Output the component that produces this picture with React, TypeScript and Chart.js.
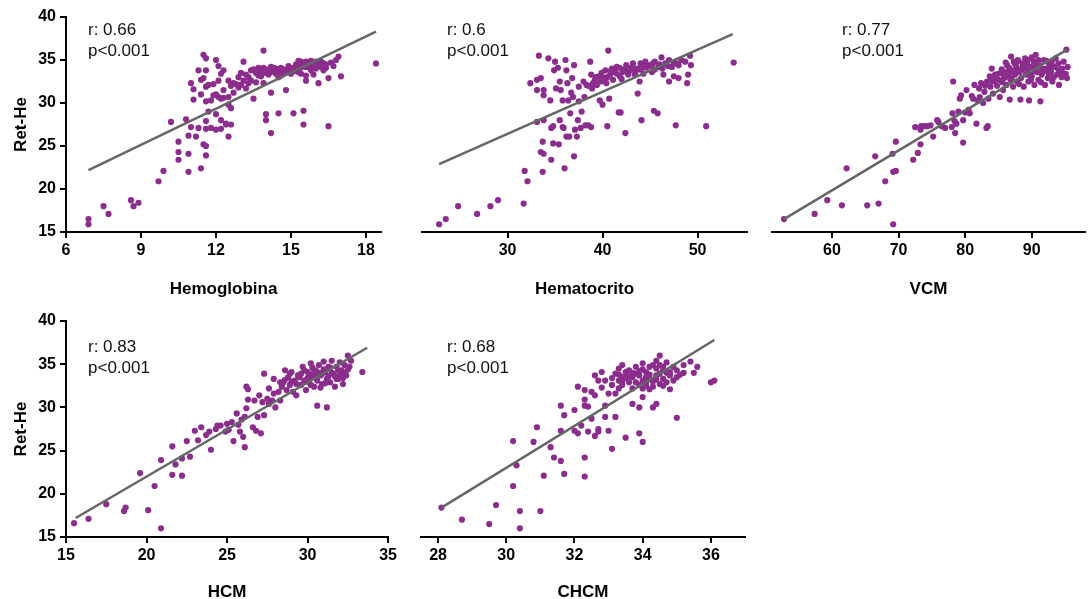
import React, { useEffect, useRef } from "react";
import { Chart, registerables } from "chart.js";

Chart.register(...registerables);

const FONT = '"Liberation Sans", Arial, Helvetica, sans-serif';
const DOT_COLOR = "#8b2d8c";
const FIT_COLOR = "#666666";

// ---------- tick labels ----------
const retHeTicks = [15, 20, 25, 30, 35, 40];
const hbTicks = [6, 9, 12, 15, 18];
const htoTicks = [30, 40, 50];
const vcmTicks = [60, 70, 80, 90];
const hcmTicks = [15, 20, 25, 30, 35];
const chcmTicks = [28, 30, 32, 34, 36];

// ---------- titles / stats ----------
const yTitle = "Ret-He";
const hbStats = ["r: 0.66", "p<0.001"];
const htoStats = ["r: 0.6", "p<0.001"];
const vcmStats = ["r: 0.77", "p<0.001"];
const hcmStats = ["r: 0.83", "p<0.001"];
const chcmStats = ["r: 0.68", "p<0.001"];

// ---------- regression lines (endpoints) ----------
const hbFit: [number, number][] = [[6.9, 22.2], [18.4, 38.3]];
const htoFit: [number, number][] = [[22.8, 22.9], [53.7, 38.0]];
const vcmFit: [number, number][] = [[52.8, 16.5], [95.3, 36.2]];
const hcmFit: [number, number][] = [[15.6, 17.2], [33.7, 36.9]];
const chcmFit: [number, number][] = [[28.1, 18.4], [36.1, 37.8]];

// ---------- scatter values [x, Ret-He] ----------
const hbPoints: [number, number][] = [
  [6.9, 16.5], [6.9, 15.9], [7.5, 18.0], [7.7, 17.1], [8.6, 18.7], [8.7, 18.0], [8.9, 18.4],
  [9.7, 20.9], [9.9, 22.1], [10.2, 27.8], [10.5, 24.3], [10.5, 23.4], [10.5, 25.5], [10.8, 28.1],
  [10.9, 22.0], [10.9, 24.1], [10.9, 26.2], [11.0, 27.2], [11.0, 32.3], [11.1, 31.6], [11.1, 30.4],
  [11.2, 26.1], [11.3, 33.8], [11.3, 27.1], [11.4, 22.4], [11.4, 32.7], [11.4, 31.0], [11.5, 35.6],
  [11.5, 25.2], [11.5, 32.9], [11.6, 27.9], [11.6, 27.0], [11.6, 35.2], [11.6, 33.8], [11.6, 25.0],
  [11.6, 23.9], [11.6, 31.9], [11.6, 30.2], [11.7, 32.1], [11.7, 29.0], [11.8, 27.1], [11.8, 30.3],
  [11.9, 32.2], [12.0, 35.0], [12.0, 28.7], [12.0, 26.9], [12.1, 30.7], [12.1, 34.3], [12.1, 32.6],
  [12.2, 30.5], [12.2, 33.4], [12.2, 27.0], [12.2, 28.0], [12.3, 30.6], [12.3, 33.8], [12.4, 27.6],
  [12.4, 27.5], [12.5, 26.1], [12.5, 30.7], [12.5, 32.6], [12.5, 29.8], [12.6, 27.5], [12.6, 32.0],
  [12.6, 29.4], [12.7, 32.3], [13.1, 34.8], [12.9, 33.0], [13.0, 32.1], [13.1, 32.6], [13.2, 31.7],
  [13.2, 33.3], [13.3, 32.3], [13.4, 32.6], [13.5, 30.5], [13.5, 33.9], [13.6, 32.4], [13.7, 34.1],
  [13.7, 33.2], [13.9, 36.1], [13.9, 33.7], [13.9, 32.3], [14.0, 28.7], [14.0, 28.0], [14.2, 26.5],
  [14.1, 33.3], [14.2, 34.2], [14.2, 31.2], [14.3, 33.7], [14.4, 33.4], [14.5, 28.8], [14.5, 33.9],
  [14.5, 33.0], [14.6, 34.1], [14.6, 33.2], [14.7, 33.9], [14.8, 33.6], [14.8, 31.5], [14.8, 33.8],
  [14.9, 34.3], [15.0, 33.4], [15.1, 28.8], [15.1, 34.1], [15.2, 33.7], [15.3, 34.4], [15.3, 33.6],
  [15.4, 34.8], [15.4, 34.1], [15.5, 29.1], [15.5, 27.5], [15.5, 34.4], [15.6, 32.6], [15.6, 33.2],
  [15.6, 34.8], [15.7, 34.2], [15.8, 33.8], [15.8, 34.6], [15.9, 34.2], [15.9, 33.3], [16.0, 34.8],
  [16.1, 32.3], [16.1, 34.4], [16.2, 34.8], [16.5, 27.3], [16.3, 34.6], [16.4, 34.1], [16.5, 32.9],
  [16.8, 35.0], [16.9, 35.4], [17.0, 33.1], [18.4, 34.6],
  [13.8, 33.1], [14.1, 33.9], [14.4, 34.0], [14.7, 33.4], [15.0, 34.0], [15.2, 34.5], [15.6, 34.2],
  [15.9, 34.7], [16.2, 34.2], [13.3, 33.0], [13.6, 33.5], [12.8, 32.2], [12.9, 31.8], [14.9, 33.6],
  [15.4, 33.4], [16.6, 34.7], [16.3, 33.8],
  [13.0, 33.5], [13.4, 33.8], [13.8, 33.7], [14.0, 33.5], [14.3, 34.1], [14.6, 33.7], [15.1, 33.9],
  [15.3, 34.9], [15.7, 34.6], [16.0, 34.0], [16.4, 34.5], [12.3, 31.5], [12.0, 31.0], [11.9, 30.9],
  [12.7, 31.2], [13.9, 34.1], [14.2, 33.6], [15.8, 34.9], [16.7, 34.3],
];

const htoPoints: [number, number][] = [
  [22.8, 15.9], [23.5, 16.5], [24.8, 18.0], [26.8, 17.1], [28.2, 18.0], [29.0, 18.7], [31.7, 18.3],
  [31.8, 22.1], [32.1, 20.9], [32.4, 32.3], [33.1, 32.7], [33.1, 31.5], [33.1, 27.8], [33.3, 35.5],
  [33.5, 32.9], [33.5, 24.3], [33.7, 25.5], [33.7, 22.0], [33.8, 28.0], [33.8, 31.5], [33.8, 24.1],
  [33.8, 30.9], [34.3, 35.2], [34.5, 30.3], [34.6, 23.4], [34.6, 27.1], [34.8, 25.3], [34.8, 27.3],
  [34.9, 33.8], [35.0, 34.8], [35.1, 31.7], [35.3, 34.1], [35.4, 25.2], [35.5, 28.0], [35.5, 32.5],
  [35.6, 31.5], [35.8, 27.2], [35.8, 30.3], [35.9, 27.1], [36.0, 22.4], [36.1, 35.0], [36.2, 33.8],
  [36.2, 26.1], [36.3, 32.3], [36.4, 30.3], [36.5, 26.1], [36.6, 28.8], [36.8, 32.9], [36.9, 30.7],
  [37.0, 34.4], [37.0, 23.8], [37.1, 26.9], [37.3, 26.1], [37.4, 28.0], [37.5, 30.2], [37.7, 27.1],
  [37.8, 29.0], [38.0, 32.5], [38.1, 30.7], [38.2, 27.4], [38.3, 32.1], [38.5, 27.4], [38.7, 34.8],
  [38.8, 27.2], [38.8, 33.3], [38.9, 31.7], [39.2, 32.7], [39.4, 32.1], [39.6, 33.1], [39.7, 30.3],
  [39.8, 32.5], [40.0, 29.8], [40.1, 32.9], [40.3, 33.8], [40.4, 32.3], [40.5, 27.3], [40.6, 36.1],
  [40.7, 30.5], [40.8, 33.3], [41.0, 34.0], [41.1, 32.7], [41.3, 33.6], [41.5, 34.2], [41.7, 28.9],
  [41.8, 33.1], [41.9, 28.9], [42.1, 33.6], [42.4, 26.5], [42.5, 34.4], [42.7, 33.3], [42.9, 33.8],
  [43.2, 34.6], [43.4, 33.3], [43.6, 34.0], [43.7, 31.1], [43.9, 32.5], [44.0, 34.6], [44.1, 28.0],
  [44.3, 33.4], [44.5, 34.8], [44.6, 34.1], [44.8, 34.4], [45.2, 33.6], [45.4, 29.1], [45.5, 34.8],
  [45.8, 28.8], [45.9, 34.2], [46.2, 35.3], [46.4, 33.3], [46.6, 34.6], [47.0, 35.0], [47.0, 32.5],
  [47.3, 34.2], [47.5, 33.1], [47.7, 27.4], [47.8, 34.6], [48.0, 32.9], [48.3, 35.0], [48.7, 34.8],
  [48.9, 32.3], [49.0, 33.3], [49.2, 35.5], [49.3, 34.4], [50.9, 27.3], [53.8, 34.7],
  [40.5, 33.0], [41.5, 33.4], [42.3, 33.9], [43.0, 34.1], [44.0, 33.9], [45.0, 34.3], [46.0, 34.5],
  [47.5, 34.7], [39.0, 32.3], [38.5, 32.0], [42.0, 32.8], [43.5, 33.7], [45.5, 33.9], [48.0, 34.4],
  [39.3, 33.0], [39.9, 33.5], [40.9, 33.8], [41.8, 34.1], [42.6, 33.6], [43.3, 33.9], [44.2, 34.2],
  [45.3, 34.6], [46.3, 34.0], [46.9, 34.3], [40.2, 32.6], [37.5, 31.9], [36.7, 31.2],
];

const vcmPoints: [number, number][] = [
  [52.8, 16.5], [57.4, 17.1], [59.3, 18.7], [61.5, 18.1], [62.2, 22.4], [65.3, 18.1], [66.5, 23.8],
  [67.0, 18.3], [68.0, 20.9], [69.1, 24.1], [69.2, 15.9], [69.2, 22.0], [69.6, 22.1], [69.6, 25.5],
  [72.2, 23.4], [72.5, 27.2], [72.9, 24.2], [73.3, 25.2], [73.3, 26.9], [73.4, 27.3], [73.8, 27.3],
  [74.3, 27.3], [74.8, 27.4], [75.2, 26.1], [75.8, 28.0], [76.0, 27.8], [76.5, 27.3], [77.0, 27.1],
  [78.0, 27.2], [78.1, 28.8], [78.2, 32.5], [78.4, 27.9], [78.5, 26.5], [78.7, 27.6], [79.0, 29.0],
  [79.2, 30.5], [79.4, 30.9], [79.7, 25.4], [79.7, 28.0], [80.0, 28.9], [80.2, 31.5], [80.5, 29.2],
  [80.7, 28.8], [81.0, 30.8], [81.2, 30.5], [81.4, 32.1], [81.7, 27.6], [81.9, 30.3], [82.1, 31.7],
  [82.2, 30.7], [82.4, 32.3], [82.7, 30.0], [82.9, 31.3], [83.2, 27.1], [83.3, 32.5], [83.4, 27.3],
  [83.5, 30.5], [83.7, 33.1], [83.8, 31.9], [84.0, 34.0], [84.2, 31.1], [84.3, 32.5], [84.5, 33.3],
  [84.8, 32.0], [85.0, 32.7], [85.2, 30.7], [85.4, 33.5], [85.7, 31.5], [85.8, 32.9], [85.9, 33.6],
  [86.2, 32.1], [86.3, 34.4], [86.4, 33.1], [86.7, 30.4], [86.8, 32.7], [86.9, 35.4], [87.0, 33.8],
  [87.2, 31.9], [87.3, 34.8], [87.5, 33.3], [87.7, 34.2], [87.8, 32.5], [87.9, 35.0], [88.2, 33.6],
  [88.3, 30.4], [88.4, 32.9], [88.6, 34.6], [88.8, 31.9], [89.0, 34.0], [89.1, 33.3], [89.4, 35.0],
  [89.5, 32.5], [89.6, 30.3], [89.8, 34.2], [90.0, 33.1], [90.3, 34.8], [90.4, 32.1], [90.6, 35.6],
  [90.8, 33.6], [91.0, 32.7], [91.1, 34.4], [91.3, 30.2], [91.5, 33.3], [91.8, 35.0], [92.0, 32.1],
  [92.1, 34.0], [92.4, 32.9], [92.6, 34.6], [92.9, 33.6], [93.1, 32.5], [93.4, 34.2], [93.6, 35.2],
  [93.8, 33.3], [94.0, 34.6], [94.1, 32.1], [94.4, 33.6], [94.6, 34.0], [94.8, 34.8], [95.1, 33.4],
  [95.2, 36.2], [95.4, 34.2], [95.3, 32.9],
  [86.5, 33.5], [87.5, 34.5], [88.5, 33.9], [89.5, 33.8], [90.5, 34.2], [91.5, 34.0], [92.5, 33.5],
  [88.0, 34.9], [89.0, 35.2], [90.0, 35.3], [86.0, 33.0], [87.0, 32.9], [91.0, 35.0], [93.0, 34.8],
  [94.0, 33.9], [84.5, 32.9], [85.5, 33.9], [89.7, 33.2], [92.2, 34.9],
  [86.6, 34.1], [87.2, 33.6], [87.9, 33.9], [88.7, 34.3], [89.3, 34.6], [90.2, 33.7], [90.9, 34.7],
  [91.7, 33.7], [92.7, 34.2], [93.3, 33.0], [85.0, 33.4], [85.6, 32.4], [86.1, 34.7], [88.1, 32.2],
  [89.9, 32.7], [91.4, 32.4], [92.9, 32.9], [94.5, 33.0], [83.0, 32.0], [84.0, 32.6],
];

const hcmPoints: [number, number][] = [
  [15.5, 16.6], [16.4, 17.1], [17.5, 18.8], [18.6, 18.0], [18.7, 18.4], [19.6, 22.4], [20.1, 18.1],
  [20.5, 20.9], [20.9, 16.0], [20.9, 23.9], [21.6, 25.5], [21.6, 22.2], [21.8, 23.4], [22.2, 24.1],
  [22.2, 22.1], [22.5, 26.1], [22.7, 24.3], [23.0, 27.3], [23.2, 26.2], [23.4, 27.7], [23.7, 26.8],
  [23.9, 27.2], [24.0, 25.1], [24.3, 27.5], [24.4, 27.9], [24.6, 27.9], [24.9, 27.2], [25.0, 28.1],
  [25.1, 27.4], [25.3, 28.3], [25.4, 26.1], [25.6, 29.3], [25.7, 28.0], [25.8, 27.2], [25.9, 28.6],
  [26.0, 26.6], [26.1, 28.9], [26.1, 25.4], [26.2, 29.9], [26.2, 32.4], [26.3, 30.9], [26.3, 32.1],
  [26.6, 27.7], [26.7, 30.8], [26.8, 27.3], [26.9, 28.9], [27.0, 31.4], [27.1, 27.0], [27.2, 30.6],
  [27.3, 33.9], [27.3, 29.1], [27.5, 31.0], [27.6, 30.4], [27.8, 30.8], [27.9, 33.3], [28.0, 30.0],
  [28.2, 31.8], [28.3, 30.8], [28.4, 32.4], [28.5, 32.9], [28.6, 34.3], [28.7, 32.0], [28.8, 33.5],
  [28.9, 32.6], [29.0, 34.1], [29.1, 31.8], [29.2, 33.1], [29.3, 31.4], [29.4, 33.7], [29.6, 32.6],
  [29.7, 34.7], [29.8, 33.1], [29.9, 32.0], [30.0, 34.1], [30.1, 32.9], [30.2, 35.1], [30.3, 33.5],
  [30.4, 32.4], [30.5, 34.3], [30.6, 33.1], [30.6, 30.2], [30.7, 34.9], [30.8, 33.7], [30.9, 32.7],
  [31.0, 35.3], [31.1, 34.1], [31.2, 33.3], [31.2, 30.0], [31.3, 34.7], [31.4, 32.9], [31.5, 35.4],
  [31.6, 33.9], [31.7, 32.4], [31.8, 34.7], [31.9, 33.3], [32.0, 35.2], [32.1, 34.3], [32.2, 32.7],
  [32.3, 34.9], [32.4, 33.7], [32.5, 36.0], [32.6, 34.7], [33.4, 34.1],
  [29.5, 33.5], [30.0, 33.4], [30.5, 33.8], [31.0, 34.4], [31.5, 34.0], [32.0, 33.8], [29.8, 34.3],
  [30.3, 34.6], [30.8, 32.3], [31.3, 33.6], [31.8, 33.3], [32.3, 34.0], [28.9, 33.9], [29.3, 32.7],
  [30.7, 34.0],
  [29.0, 33.0], [29.6, 33.9], [30.1, 33.8], [30.4, 34.0], [30.9, 33.9], [31.4, 34.6], [31.7, 33.6],
  [32.2, 33.4], [32.5, 34.4], [29.9, 33.0], [30.2, 32.6], [31.1, 32.8], [28.6, 33.2], [28.3, 32.9],
  [27.6, 32.2], [27.9, 31.6], [31.9, 34.3], [32.7, 35.4],
];

const chcmPoints: [number, number][] = [
  [28.1, 18.4], [28.7, 17.0], [29.5, 16.5], [29.7, 18.7], [30.2, 26.1], [30.2, 20.9], [30.3, 23.3],
  [30.4, 16.0], [30.4, 18.0], [30.8, 26.0], [30.9, 27.7], [31.0, 18.0], [31.1, 22.1], [31.3, 25.4],
  [31.4, 24.2], [31.6, 30.2], [31.6, 27.3], [31.6, 23.8], [31.7, 22.3], [31.7, 29.1], [32.0, 27.3],
  [32.0, 29.7], [32.1, 32.4], [32.1, 27.0], [32.2, 27.9], [32.3, 32.0], [32.3, 24.2], [32.3, 22.0],
  [32.3, 30.9], [32.3, 30.2], [32.4, 27.2], [32.4, 30.1], [32.5, 31.8], [32.5, 28.7], [32.6, 33.7],
  [32.6, 26.7], [32.6, 31.4], [32.7, 33.1], [32.7, 27.5], [32.7, 27.2], [32.8, 32.3], [32.8, 34.1],
  [32.9, 28.9], [32.9, 30.2], [32.9, 33.1], [33.0, 27.3], [33.0, 31.6], [33.1, 25.2], [33.1, 32.6],
  [33.2, 33.9], [33.2, 28.9], [33.2, 31.6], [33.3, 33.1], [33.3, 32.2], [33.4, 34.9], [33.4, 33.5],
  [33.4, 32.6], [33.5, 34.1], [33.5, 26.5], [33.6, 32.9], [33.6, 34.3], [33.7, 30.4], [33.7, 32.2],
  [33.7, 33.5], [33.8, 34.7], [33.9, 32.6], [33.9, 30.0], [33.9, 27.0], [33.9, 33.7], [34.0, 33.1],
  [34.0, 26.0], [34.0, 35.1], [34.0, 32.2], [34.0, 31.2], [34.1, 34.1], [34.1, 32.9], [34.2, 34.7],
  [34.2, 33.3], [34.3, 32.4], [34.3, 30.0], [34.4, 35.4], [34.4, 34.5], [34.4, 30.4], [34.4, 33.7],
  [34.5, 36.0], [34.5, 32.7], [34.5, 34.9], [34.6, 33.3], [34.6, 34.3], [34.7, 32.9], [34.7, 35.2],
  [34.8, 33.7], [34.8, 32.1], [34.9, 34.7], [35.0, 28.8], [35.0, 33.5], [35.2, 34.9], [35.2, 34.0],
  [35.4, 35.3], [35.5, 34.0], [35.6, 34.7], [36.0, 32.9], [36.1, 33.1],
  [33.5, 33.4], [33.8, 33.9], [34.0, 34.4], [34.2, 33.8], [34.4, 33.2], [34.6, 34.7], [34.8, 34.1],
  [33.3, 33.8], [33.7, 34.0], [34.1, 32.5], [34.3, 34.9], [34.9, 33.1], [35.0, 34.3],
  [33.4, 33.0], [33.6, 33.6], [33.9, 34.2], [34.1, 33.5], [34.3, 33.0], [34.5, 33.9], [34.7, 34.0],
  [33.8, 32.9], [34.2, 32.1], [34.6, 32.5], [33.1, 33.4], [33.3, 34.5], [35.1, 33.8],
];

// ---------- panel layout ----------
type PanelDef = {
  key: string;
  box: { left: number; top: number; width: number; height: number };
  pad: { left: number; top: number; right: number };
  showY: boolean;
  yAxisWidth: number;
  xAxisHeight: number;
  xTitlePadBottom: number;
  xTitle: string;
  xMin: number;
  xMax: number;
  xTicks: number[];
  points: [number, number][];
  fit: [number, number][];
  stats: string[];
  statsPos: { x: number; y: number };
};

const panels: PanelDef[] = [
  {
    key: "hb", box: { left: 0, top: 0, width: 400, height: 300 }, pad: { left: 0, top: 17, right: 19 },
    showY: true, yAxisWidth: 66, xAxisHeight: 68, xTitlePadBottom: 2, xTitle: "Hemoglobina",
    xMin: 6, xMax: 18.6, xTicks: hbTicks, points: hbPoints, fit: hbFit, stats: hbStats, statsPos: { x: 88, y: 35 },
  },
  {
    key: "hto", box: { left: 400, top: 0, width: 360, height: 300 }, pad: { left: 22, top: 17, right: 13 },
    showY: false, yAxisWidth: 0, xAxisHeight: 68, xTitlePadBottom: 2, xTitle: "Hematocrito",
    xMin: 21, xMax: 55.2, xTicks: htoTicks, points: htoPoints, fit: htoFit, stats: htoStats, statsPos: { x: 47, y: 35 },
  },
  {
    key: "vcm", box: { left: 760, top: 0, width: 329, height: 300 }, pad: { left: 12, top: 17, right: 1 },
    showY: false, yAxisWidth: 0, xAxisHeight: 68, xTitlePadBottom: 2, xTitle: "VCM",
    xMin: 51, xMax: 98, xTicks: vcmTicks, points: vcmPoints, fit: vcmFit, stats: vcmStats, statsPos: { x: 82, y: 35 },
  },
  {
    key: "hcm", box: { left: 0, top: 300, width: 400, height: 299 }, pad: { left: 0, top: 21, right: 10 },
    showY: true, yAxisWidth: 66, xAxisHeight: 62, xTitlePadBottom: -2, xTitle: "HCM",
    xMin: 15, xMax: 35, xTicks: hcmTicks, points: hcmPoints, fit: hcmFit, stats: hcmStats, statsPos: { x: 88, y: 52 },
  },
  {
    key: "chcm", box: { left: 400, top: 300, width: 360, height: 299 }, pad: { left: 21, top: 21, right: 15 },
    showY: false, yAxisWidth: 0, xAxisHeight: 62, xTitlePadBottom: -2, xTitle: "CHCM",
    xMin: 27.5, xMax: 37, xTicks: chcmTicks, points: chcmPoints, fit: chcmFit, stats: chcmStats, statsPos: { x: 47, y: 52 },
  },
];

const statsPlugin = {
  id: "statsText",
  afterDraw(chart: any, _args: any, opts: any) {
    if (!opts || !opts.lines) return;
    const ctx = chart.ctx;
    ctx.save();
    ctx.font = `17px ${FONT}`;
    ctx.fillStyle = "#111111";
    ctx.textAlign = "left";
    ctx.textBaseline = "alphabetic";
    opts.lines.forEach((t: string, i: number) => ctx.fillText(t, opts.x, opts.y + i * 21));
    ctx.restore();
  },
};

function Panel({ p }: { p: PanelDef }) {
  const ref = useRef<HTMLCanvasElement | null>(null);
  useEffect(() => {
    if (!ref.current) return;
    const axisCommon = {
      grid: { drawOnChartArea: false, drawTicks: true, tickLength: 6, color: "#000", lineWidth: 2 },
      border: { display: true, color: "#000", width: 2 },
    };
    const chart = new Chart(ref.current, {
      type: "scatter",
      data: {
        datasets: [
          {
            data: p.fit.map(([x, y]) => ({ x, y })),
            showLine: true,
            borderColor: FIT_COLOR,
            borderWidth: 2.5,
            pointRadius: 0,
            fill: false,
            order: 0,
          },
          {
            data: p.points.map(([x, y]) => ({ x, y })),
            backgroundColor: DOT_COLOR,
            borderWidth: 0,
            pointRadius: 3.1,
            order: 1,
          },
        ],
      },
      options: {
        animation: false,
        responsive: false,
        maintainAspectRatio: false,
        devicePixelRatio: 1,
        layout: { padding: { left: p.pad.left, top: p.pad.top, right: p.pad.right, bottom: 0 } },
        plugins: {
          legend: { display: false },
          tooltip: { enabled: false },
          statsText: { lines: p.stats, x: p.statsPos.x, y: p.statsPos.y },
        } as any,
        scales: {
          x: {
            type: "linear",
            min: p.xMin,
            max: p.xMax,
            ...axisCommon,
            afterBuildTicks: (s: any) => {
              s.ticks = p.xTicks.map((v) => ({ value: v }));
            },
            afterFit: (s: any) => {
              s.height = p.xAxisHeight;
            },
            ticks: {
              color: "#000",
              font: { family: FONT, size: 16, weight: "bold" },
              padding: 3,
              maxRotation: 0,
              autoSkip: false,
            },
            title: {
              display: true,
              text: p.xTitle,
              color: "#000",
              font: { family: FONT, size: 17, weight: "bold", lineHeight: 1 },
              padding: { top: 0, bottom: p.xTitlePadBottom },
            },
          },
          y: {
            type: "linear",
            min: 15,
            max: 40,
            display: p.showY,
            ...axisCommon,
            afterBuildTicks: (s: any) => {
              s.ticks = retHeTicks.map((v) => ({ value: v }));
            },
            afterFit: (s: any) => {
              s.width = p.yAxisWidth;
            },
            ticks: {
              color: "#000",
              font: { family: FONT, size: 16, weight: "bold" },
              padding: 4,
              autoSkip: false,
            },
            title: {
              display: true,
              text: yTitle,
              color: "#000",
              font: { family: FONT, size: 17, weight: "bold" },
              padding: { top: 11, bottom: 0 },
            },
          },
        } as any,
      },
      plugins: [statsPlugin],
    });
    return () => chart.destroy();
  }, [p]);

  return (
    <canvas
      ref={ref}
      width={p.box.width}
      height={p.box.height}
      style={{
        position: "absolute",
        left: p.box.left,
        top: p.box.top,
        width: p.box.width,
        height: p.box.height,
      }}
    />
  );
}

export default function App() {
  return (
    <div
      style={{
        position: "fixed",
        left: 0,
        top: 0,
        width: 1089,
        height: 599,
        background: "#ffffff",
        overflow: "hidden",
      }}
    >
      {panels.map((p) => (
        <Panel key={p.key} p={p} />
      ))}
    </div>
  );
}
